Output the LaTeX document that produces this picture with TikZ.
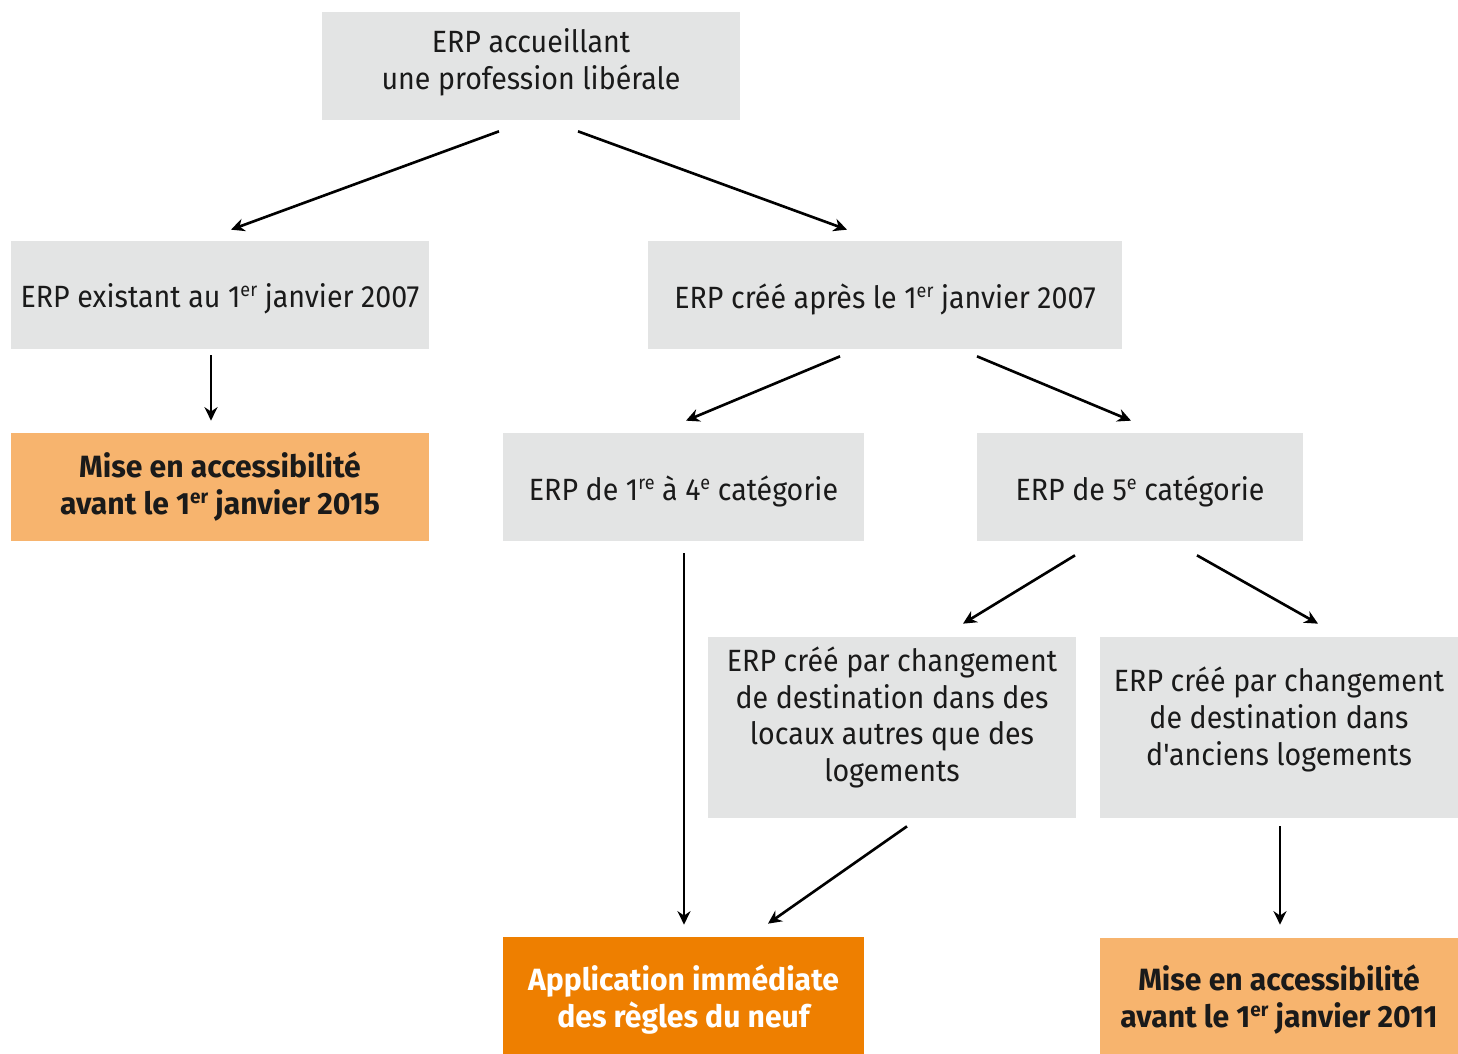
\documentclass[tikz,border=0pt]{standalone}
\usepackage{fontspec}
\setmainfont{Fira Sans}[Ligatures=TeXOff, UprightFeatures={FakeStretch=0.93}, BoldFeatures={FakeStretch=0.98}]
\usetikzlibrary{arrows.meta}
\definecolor{boxgrey}{HTML}{E3E4E4}
\definecolor{lightor}{HTML}{F7B46E}
\definecolor{darkor}{HTML}{EE7F00}
\definecolor{txt}{HTML}{1A1A1A}
\newcommand\supx[1]{\raisebox{0.68ex}{\fontsize{11}{11}\selectfont #1}}
\begin{document}
\begin{tikzpicture}[x=0.02cm,y=-0.02cm,
  base/.style={draw=none, inner sep=0pt},
  gbox/.style={base, fill=boxgrey},
  lbox/.style={base, fill=lightor},
  dbox/.style={base, fill=darkor},
  gtext/.style={align=center, inner sep=0pt, text=txt, font=\fontsize{17.5}{21}\selectfont},
  btext/.style={gtext, font=\fontsize{17.5}{21}\selectfont\bfseries},
  wtext/.style={btext, text=white},
  arr/.style={-{Stealth[length=0.27cm,width=0.26cm]}, line width=1.5pt, black}]
\useasboundingbox (0,0) rectangle (1458,1054);

% boxes
\node[gbox, minimum width=8.36cm, minimum height=2.16cm] (top) at (531,66) {};
\node[gbox, minimum width=8.36cm, minimum height=2.16cm] (ex) at (220,295) {};
\node[gbox, minimum width=9.48cm, minimum height=2.16cm] (ca) at (885,295) {};
\node[lbox, minimum width=8.36cm, minimum height=2.16cm] (m15) at (220,487) {};
\node[gbox, minimum width=7.22cm, minimum height=2.16cm] (c14) at (683.5,487) {};
\node[gbox, minimum width=6.52cm, minimum height=2.16cm] (c5) at (1140,487) {};
\node[gbox, minimum width=7.36cm, minimum height=3.62cm] (loc) at (892,727.5) {};
\node[gbox, minimum width=7.16cm, minimum height=3.62cm] (log) at (1279,727.5) {};
\node[dbox, minimum width=7.22cm, minimum height=2.34cm] (app) at (683.5,995.5) {};
\node[lbox, minimum width=7.16cm, minimum height=2.32cm] (m11) at (1279,996) {};

% texts
\node[gtext] (ttop) at ([shift={(0,-4)}]top.center) {ERP accueillant\\une profession libérale};
\node[gtext] (tex) at ([shift={(0,4)}]ex.center) {ERP existant au 1\supx{er} janvier 2007};
\node[gtext] (tca) at ([shift={(0,4)}]ca.center) {ERP créé après le 1\supx{er} janvier 2007};
\node[btext] (tm15) at (m15.center) {Mise en accessibilité\\avant le 1\supx{er} janvier 2015};
\node[gtext] (tc14) at ([shift={(0,4)}]c14.center) {ERP de 1\supx{re} à 4\supx{e} catégorie};
\node[gtext] (tc5) at ([shift={(0,4)}]c5.center) {ERP de 5\supx{e} catégorie};
\node[gtext] (tloc) at ([shift={(0,-10)}]loc.center) {ERP créé par changement\\de destination dans des\\locaux autres que des\\logements};
\node[gtext] (tlog) at ([shift={(0,-8)}]log.center) {ERP créé par changement\\de destination dans\\d'anciens logements};
\node[wtext] (tapp) at ([shift={(0,4)}]app.center) {Application immédiate\\des règles du neuf};
\node[btext] (tm11) at ([shift={(0,4)}]m11.center) {Mise en accessibilité\\avant le 1\supx{er} janvier 2011};

% connectors
\draw[arr] ([shift={(-32,11)}]top.south) -- ([shift={(11,-11)}]ex.north);
\draw[arr] ([shift={(47,11)}]top.south) -- ([shift={(-38,-11)}]ca.north);
\draw[arr] ([shift={(-9,6)}]ex.south) -- ([shift={(-9,-12)}]m15.north);
\draw[arr] ([shift={(-45,7)}]ca.south) -- ([shift={(2.5,-12)}]c14.north);
\draw[arr] ([shift={(92,7)}]ca.south) -- ([shift={(-9,-12)}]c5.north);
\draw[arr] ([shift={(0.5,12)}]c14.south) -- ([shift={(0.5,-12)}]app.north);
\draw[arr] ([shift={(-65,14)}]c5.south) -- ([shift={(71,-13)}]loc.north);
\draw[arr] ([shift={(57,14)}]c5.south) -- ([shift={(39,-13)}]log.north);
\draw[arr] ([shift={(15,8)}]loc.south) -- ([shift={(84.5,-13)}]app.north);
\draw[arr] ([shift={(1,8)}]log.south) -- ([shift={(1,-13)}]m11.north);
\end{tikzpicture}
\end{document}
